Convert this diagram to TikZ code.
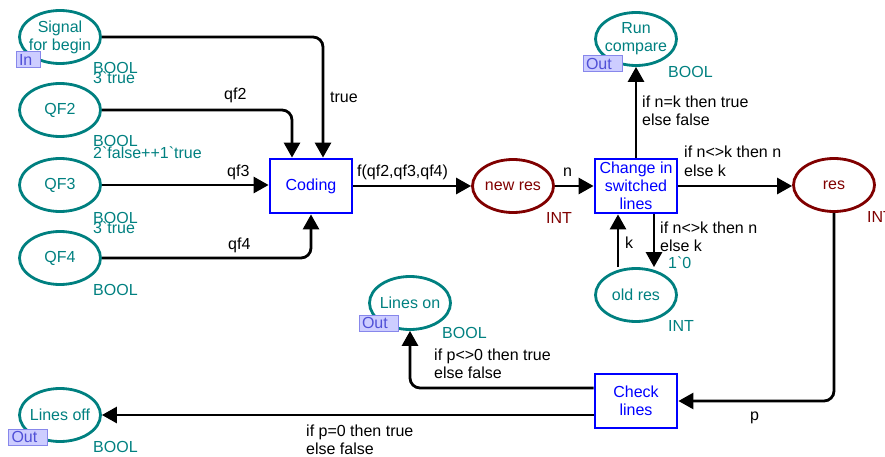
\documentclass[tikz,border=0pt]{standalone}
\usepackage{fontspec}
\setmainfont{Liberation Sans}
\usetikzlibrary{arrows.meta,shapes.geometric,positioning}
\definecolor{cpnteal}{RGB}{0,128,128}
\definecolor{cpnred}{RGB}{128,0,0}
\definecolor{portfill}{RGB}{205,205,255}
\definecolor{portdraw}{RGB}{135,135,235}
\definecolor{porttext}{RGB}{80,80,215}
\tikzset{
    place/.style = {
        ellipse,
        draw = cpnteal,
        text = cpnteal,
        line width = 2.8pt,
        minimum width = 81pt,
        minimum height = 53pt,
        inner sep = -9pt,
        align = center,
        },
    fused/.style = {
        draw = cpnred,
        text = cpnred,
        },
    trans/.style = {
        rectangle,
        draw = blue,
        text = blue,
        line width = 2.8pt,
        minimum width = 82pt,
        minimum height = 54pt,
        inner sep = 0pt,
        align = center,
        },
    port/.style = {
        draw = portdraw,
        fill = portfill,
        text = porttext,
        line width = 1pt,
        minimum height = 16pt,
        inner ysep = 0pt,
        inner xsep = 3pt,
        text width = #1,
        align = left,
        },
    colset/.style = {
        text = cpnteal,
        anchor = base west,
        inner sep = 0pt,
        },
    inscr/.style = {
        anchor = base west,
        inner sep = 0pt,
        align = left,
        },
    arc/.style = {
        line width = 2.8pt,
        rounded corners = 10pt,
        -{Triangle[length=15pt,width=16pt]},
        },
}

\begin{document}
\begin{tikzpicture}[x=1pt, y=-1pt, font=\fontsize{16}{18}\selectfont]
            \useasboundingbox (0,0) rectangle (885,457);

            \node[place] (sig) at (60,37) {Signal\\for begin};
            \node[place] (qf2) at (60,110) {QF2};
            \node[place] (qf3) at (60,185) {QF3};
            \node[place] (qf4) at (60,258) {QF4};
            \node[trans] (coding) at (311,186) {Coding};
            \node[place, fused] (newres) at (513,186) {new res};
            \node[trans] (chg) at (636,186) {Change in\\switched\\lines};
            \node[place] (run) at (636,39) {Run\\compare};
            \node[place, fused] (res) at (834,185) {res};
            \node[place] (old) at (636,295) {old res};
            \node[trans] (chk) at (636,401) {Check\\lines};
            \node[place] (on) at (410,303) {Lines on};
            \node[place] (off) at (60,415) {Lines off};

            \node[port=18pt] (sigport) at (28,60) {In};
            \node[port=33pt] (runport) at (602.5,64) {Out};
            \node[port=33pt] (onport) at (378.5,323) {Out};
            \node[port=33pt] (offport) at (28,437) {Out};

            \node[colset] (sigtype) at (93,74) {BOOL};
            \node[colset] (siginit) at (93,84) {3\textasciigrave true};
            \node[colset] (qf2type) at (93,147) {BOOL};
            \node[colset] (qf2init) at (93,159) {2\textasciigrave false++1\textasciigrave true};
            \node[colset] (qf3type) at (93,223) {BOOL};
            \node[colset] (qf3init) at (93,233) {3\textasciigrave true};
            \node[colset] (qf4type) at (93,295) {BOOL};
            \node[colset, text=cpnred] (newtype) at (546,223) {INT};
            \node[colset] (runtype) at (668,78) {BOOL};
            \node[colset, text=cpnred] (restype) at (867,222) {INT};
            \node[colset] (oldinit) at (668,268) {1\textasciigrave 0};
            \node[colset] (oldtype) at (668,331) {INT};
            \node[colset] (ontype) at (442,338) {BOOL};
            \node[colset] (offtype) at (93,452) {BOOL};

            \draw[arc] (sig.east) -| ([xshift=12pt]coding.north);
            \draw[arc] (qf2.east) -| ([xshift=-19pt]coding.north);
            \draw[arc] (qf3.east) -- (qf3.east -| coding.west);
            \draw[arc] (qf4.east) -| (coding.south);
            \draw[arc] (coding) -- (newres);
            \draw[arc] (newres) -- (chg);
            \draw[arc] (chg) -- (run);
            \draw[arc] (chg.east) -- (chg.east -| res.west);
            \draw[arc] ([xshift=18pt]chg.south) -- ([xshift=18pt]old.north);
            \draw[arc] ([xshift=-18pt]old.north) -- ([xshift=-18pt]chg.south);
            \draw[arc] (res.south) |- (chk.east);
            \draw[arc] ([yshift=13pt]chk.west) -| (on.south);
            \draw[arc] ([yshift=-14pt]chk.west) -- ([yshift=-14pt]chk.west -| off.east);

            \node[inscr] (arctrue) at (330,103) {true};
            \node[inscr] (arcqf2) at (224,100) {qf2};
            \node[inscr] (arcqf3) at (227,176) {qf3};
            \node[inscr] (arcqf4) at (228,249) {qf4};
            \node[inscr] (arcf) at (357,177) {f(qf2,qf3,qf4)};
            \node[inscr] (arcn) at (563,177) {n};
            \node[inscr] (arceq) at (642,126) {if n=k then true\\else false};
            \node[inscr] (arcres) at (684,176) {if n<>k then n\\else k};
            \node[inscr] (arcold) at (660,251) {if n<>k then n\\else k};
            \node[inscr] (arck) at (625,248) {k};
            \node[inscr] (arcp) at (750,420) {p};
            \node[inscr] (arcon) at (434,378) {if p<>0 then true\\else false};
            \node[inscr] (arcoff) at (306,454) {if p=0 then true\\else false};
        \end{tikzpicture}
\end{document}
